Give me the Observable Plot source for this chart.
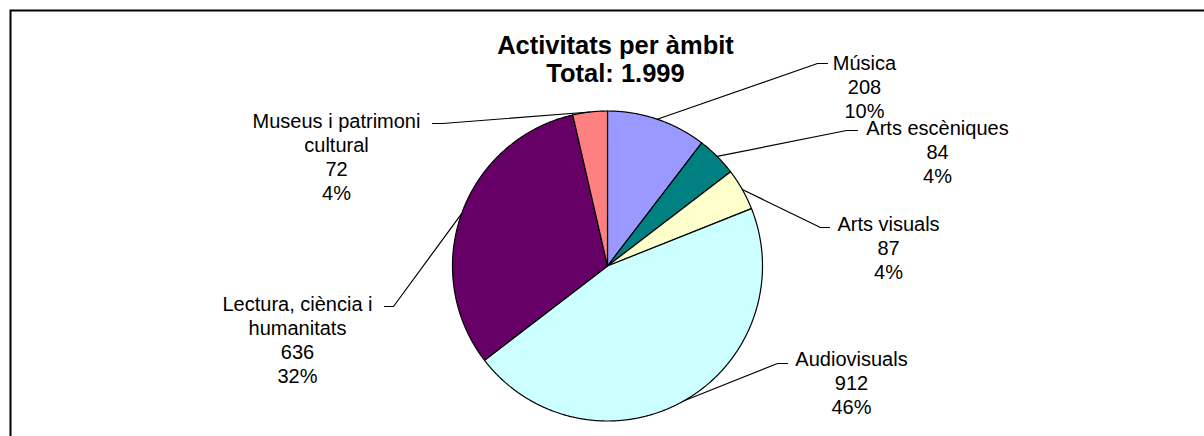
<!DOCTYPE html>
<html>
<head>
<meta charset="utf-8">
<script src="https://cdn.jsdelivr.net/npm/d3@7"></script>
<script src="https://cdn.jsdelivr.net/npm/@observablehq/plot@0.6"></script>
<style>
  html, body { margin: 0; padding: 0; background: #fff; }
  #chart svg { display: block; }
</style>
</head>
<body>
<div id="chart"></div>
<script>
// ---- data ----
const categories = ["Música", "Arts escèniques", "Arts visuals", "Audiovisuals", "Lectura, ciència i humanitats", "Museus i patrimoni cultural"];
const displayNames = ["Música", "Arts escèniques", "Arts visuals", "Audiovisuals", "Lectura, ciència i\nhumanitats", "Museus i patrimoni\ncultural"];
const values = [208, 84, 87, 912, 636, 72];
const colors = ["#9999FF", "#008080", "#FFFFCC", "#CCFFFF", "#660066", "#FF8080"];
const titleLines = ["Activitats per àmbit", "Total: 1.999"];

// ---- layout (pixels) ----
const W = 1204, H = 436;
const cx = 607, cy = 265.5, R = 155;
const labelLayout = [
  {tx: 864, ty: 52,  elbow: [817, 63],  tick: [827, 63]},
  {tx: 937, ty: 117, elbow: [846, 130], tick: [857, 130]},
  {tx: 888, ty: 213, elbow: [820, 227], tick: [829, 227]},
  {tx: 851, ty: 348, elbow: [777, 363], tick: [787, 363]},
  {tx: 297, ty: 293, elbow: [393, 306], tick: [384, 306]},
  {tx: 336, ty: 110, elbow: [442, 123], tick: [432, 123]}
];

const total = d3.sum(values);
const fmt = d3.format(",");
const rows = categories.map((c, i) => ({cat: c, name: displayNames[i], value: values[i]}));
const arcs = d3.pie().sort(null).value(d => d.value)(rows);

const pt = (a, r = R) => [cx + r * Math.sin(a), cy - r * Math.cos(a)];

// wedge polygons derived from the pie layout
const features = arcs.map(a => {
  const n = Math.max(2, Math.ceil((a.endAngle - a.startAngle) / 0.005));
  const ring = [[cx, cy]];
  for (let k = 0; k <= n; k++) ring.push(pt(a.startAngle + (a.endAngle - a.startAngle) * k / n));
  ring.push([cx, cy]);
  return {type: "Feature", properties: {cat: a.data.cat}, geometry: {type: "Polygon", coordinates: [ring]}};
});

// leader lines from slice midpoint on the rim
const leaders = [];
arcs.forEach((a, i) => {
  const mid = (a.startAngle + a.endAngle) / 2;
  const p0 = pt(mid);
  const L = labelLayout[i];
  [p0, L.elbow, L.tick].forEach(p => leaders.push({cat: a.data.cat, x: p[0], y: p[1]}));
});

const labels = arcs.map((a, i) => ({
  x: labelLayout[i].tx,
  y: labelLayout[i].ty,
  text: `${a.data.name}\n${fmt(a.data.value)}\n${Math.round(a.data.value / total * 100)}%`
}));

const font = "'Liberation Sans', Arial, Helvetica, sans-serif";

const chart = Plot.plot({
  width: W,
  height: H,
  margin: 0,
  projection: {type: "identity"},
  color: {type: "ordinal", domain: categories, range: colors},
  style: {fontFamily: font, background: "#fff"},
  marks: [
    Plot.frame({stroke: "#000", strokeWidth: 2, insetLeft: 10, insetTop: 10, insetRight: -10, insetBottom: -10}),
    Plot.geo(features, {fill: d => d.properties.cat, stroke: "#000", strokeWidth: 1.2}),
    Plot.line(leaders, {x: "x", y: "y", z: "cat", stroke: "#000", strokeWidth: 1.2, curve: "linear"}),
    Plot.text(labels, {x: "x", y: "y", text: "text", fill: "#000", fontSize: 20, lineHeight: 1.2, lineAnchor: "top", textAnchor: "middle", fontFamily: font}),
    Plot.text([titleLines.join("\n")], {x: () => 615, y: () => 34, text: d => d, fill: "#000", fontSize: 25.5, fontWeight: "bold", lineHeight: 1.09, lineAnchor: "top", textAnchor: "middle", fontFamily: font})
  ]
});
document.getElementById("chart").appendChild(chart);
</script>
</body>
</html>
